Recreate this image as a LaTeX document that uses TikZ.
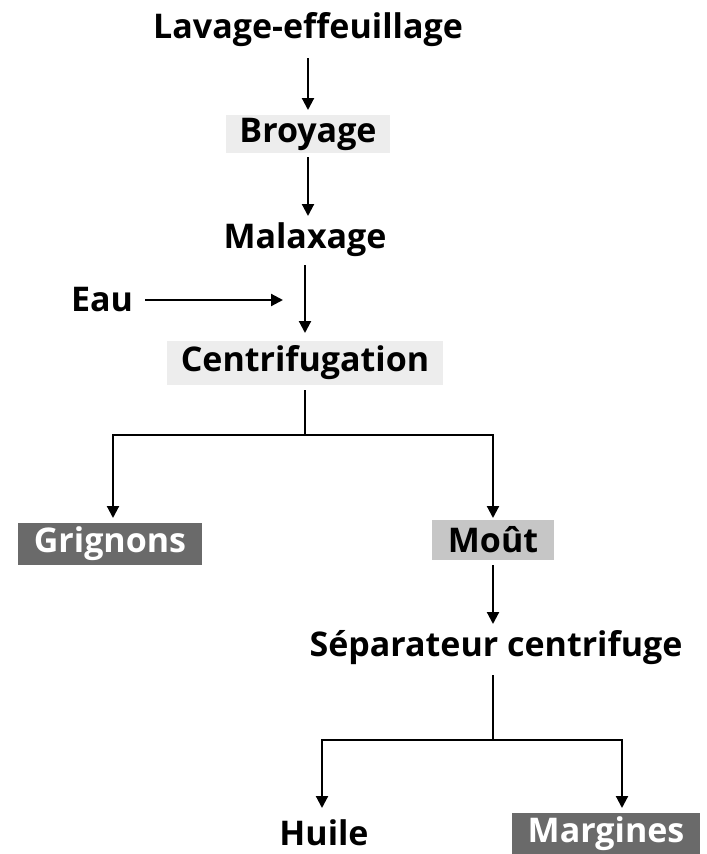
\documentclass[tikz,border=0pt]{standalone}
\usepackage{fontspec}
\setmainfont{Open Sans}
\usetikzlibrary{arrows.meta}
\definecolor{lightbox}{HTML}{EDEDED}
\definecolor{midbox}{HTML}{C6C6C6}
\definecolor{darkbox}{HTML}{6A6A6A}
\begin{document}
\begin{tikzpicture}[x=0.75pt,y=-0.75pt,
  lbl/.style={font=\fontsize{25.5}{28}\selectfont\bfseries, inner sep=0pt},
  lightfill/.style={lbl, fill=lightbox, minimum height=29pt, inner xsep=10pt},
  midfill/.style={lbl, fill=midbox, minimum height=30pt, inner xsep=12pt},
  darkfill/.style={lbl, fill=darkbox, text=white, minimum height=31pt, inner xsep=12pt},
  arr/.style={line width=1.6pt, -{Triangle[length=9pt,width=9pt]}},
  ln/.style={line width=1.6pt}]
\useasboundingbox (0,0) rectangle (707,854);
\node[lbl] (lav) at (308,30) {Lavage-effeuillage};
\node[lightfill] (broy) at (308,134) {Broyage};
\node[lbl] (mal) at (305,240) {Malaxage};
\node[lbl] (eau) at (102,300) {Eau};
\node[lightfill, minimum height=33pt] (cent) at (305,363) {Centrifugation};
\node[darkfill] (grig) at (110,544) {Grignons};
\node[midfill] (mout) at (493,540) {Moût};
\node[lbl] (sep) at (496,648) {Séparateur centrifuge};
\node[lbl] (huile) at (324,833) {Huile};
\node[darkfill] (marg) at (606,834) {Margines};
\coordinate (j1) at (305,435);
\coordinate (j2) at (493,740);
\coordinate (eauend) at (283,300);

\draw[arr] (308,58) -- (308,110);
\draw[arr] (308,157) -- (308,216);
\draw[arr] (305,265) -- (305,333);
\draw[arr] (eau.east) ++(12,0) -- (eauend);
\draw[ln] (305,390) -- (j1);
\draw[arr] (j1) -| (113,518);
\draw[arr] (j1) -| (493,518);
\draw[arr] (493,565) -- (493,624);
\draw[ln] (493,675) -- (j2);
\draw[arr] (j2) -| (322,808);
\draw[arr] (j2) -| (622,808);
\end{tikzpicture}
\end{document}
